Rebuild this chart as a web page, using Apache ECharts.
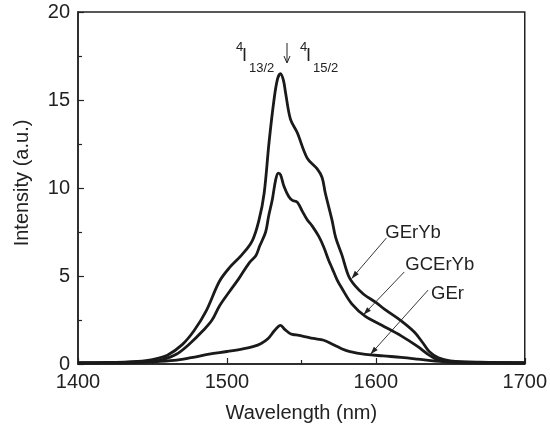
<!DOCTYPE html>
<html><head><meta charset="utf-8">
<script src="https://cdn.jsdelivr.net/npm/echarts@6/dist/echarts.min.js"></script>
<style>html,body{margin:0;padding:0;background:#fff}#c{width:550px;height:434px}</style>
</head><body><div id="c"></div>
<script>
// Axis ranges / ticks
const xRange = [1400, 1700];
const xStep = 100;
const yRange = [0, 20];
const yStep = 5;

// GErYb series
const gerybX = [1400,1420,1440,1450,1460,1470,1478,1486,1495,1502,1510,1517,1521.6,1525,1528.3,1531.6,1534,1536,1538,1539.4,1542.7,1547.2,1553.9,1560.5,1563.9,1566.1,1570.5,1573,1577.2,1581.7,1586,1592,1600,1606,1617,1626,1632,1636,1642,1650,1670,1700];
const gerybY = [0.08,0.09,0.15,0.25,0.5,1.1,1.9,3.0,4.7,5.5,6.2,7.0,8.2,9.7,12.6,15.0,16.2,16.5,16.1,15.4,13.9,13.15,11.7,11.1,10.6,9.7,8.2,7.2,6.2,5.0,4.45,3.95,3.5,3.1,2.45,1.8,1.15,0.7,0.35,0.18,0.1,0.08];

// GCErYb series
const gcerybX = [1400,1420,1440,1450,1457,1466,1475,1484,1490,1495,1502,1508,1515,1519.4,1522,1526,1528,1530.5,1532.7,1534.5,1536,1538.3,1541.6,1544,1547.2,1550.5,1553.9,1557.2,1561.7,1565,1568.3,1570.6,1573.9,1577.2,1584,1593,1604,1617,1628,1635,1642,1650,1670,1700];
const gcerybY = [0.06,0.07,0.1,0.15,0.25,0.55,1.15,1.9,2.5,3.3,4.15,4.85,5.75,6.15,6.7,7.5,8.4,9.35,10.45,10.85,10.75,10.1,9.5,9.3,9.2,8.7,8.2,7.85,7.25,6.65,5.9,5.45,4.8,4.3,3.4,2.7,2.2,1.6,1.0,0.55,0.22,0.12,0.07,0.06];

// GEr series
const gerX = [1400,1430,1450,1464.5,1476,1488,1500,1510,1518,1523,1527.7,1532,1536,1539,1543,1546.5,1552,1558,1565,1572,1577,1582,1593,1605,1617,1628,1640,1652,1670,1700];
const gerY = [0.05,0.07,0.12,0.2,0.36,0.56,0.71,0.85,1.0,1.17,1.45,1.9,2.2,1.95,1.7,1.65,1.56,1.45,1.35,1.08,0.87,0.72,0.55,0.46,0.38,0.28,0.16,0.1,0.07,0.05];

// Series labels with arrow (data coordinates)
const labelNames = ['GErYb', 'GCErYb', 'GEr'];
const labelPos = [[1606.4, 7.44], [1619.8, 5.63], [1637.1, 3.98]];
const arrowFrom = [[1607.1, 7.16], [1619.1, 5.23], [1635.1, 4.2]];
const arrowTo = [[1583.7, 4.85], [1591.7, 2.8], [1596.4, 0.55]];

const pairs = (xs, ys) => xs.map((x, i) => [x, ys[i]]);
const FONT = 'Liberation Sans';
const INK = '#1a1a1a';

const chart = echarts.init(document.getElementById('c'), null, {renderer: 'canvas'});

const axisCommon = {
  axisLine: {show: true, lineStyle: {color: '#222', width: 1.5}},
  axisTick: {show: true, inside: true, length: 6, lineStyle: {color: '#222', width: 1.2}},
  minorTick: {show: true, splitNumber: 2, length: 4, lineStyle: {color: '#222', width: 1.2}},
  splitLine: {show: false},
  axisLabel: {color: '#222', fontSize: 20, fontFamily: FONT, formatter: v => String(v)},
  nameTextStyle: {color: '#222', fontSize: 20, fontFamily: FONT}
};

const lineSeries = (name, data) => ({
  name, type: 'line', data, showSymbol: false, smooth: 0.35,
  lineStyle: {color: INK, width: 2.8}, itemStyle: {color: INK}, z: 3
});

chart.setOption({
  animation: false,
  backgroundColor: '#fff',
  grid: {left: 78, right: 23, top: 12, bottom: 70, show: true, borderColor: '#222', borderWidth: 1.5},
  xAxis: Object.assign({}, axisCommon, {
    type: 'value', min: xRange[0], max: xRange[1], interval: xStep,
    name: 'Wavelength (nm)', nameLocation: 'middle', nameGap: 39,
    axisLabel: Object.assign({}, axisCommon.axisLabel, {margin: 8})
  }),
  yAxis: Object.assign({}, axisCommon, {
    type: 'value', min: yRange[0], max: yRange[1], interval: yStep,
    name: 'Intensity (a.u.)', nameLocation: 'middle', nameGap: 46,
    nameTextStyle: Object.assign({}, axisCommon.nameTextStyle, {padding: [0, 0, 0, 10]}),
    axisLabel: Object.assign({}, axisCommon.axisLabel, {margin: 8})
  }),
  series: [
    lineSeries('GErYb', pairs(gerybX, gerybY)),
    lineSeries('GCErYb', pairs(gcerybX, gcerybY)),
    lineSeries('GEr', pairs(gerX, gerY))
  ]
});

const px = p => chart.convertToPixel({gridIndex: 0}, p);
const graphics = [];
labelNames.forEach((name, i) => {
  const t = px(labelPos[i]);
  graphics.push({type: 'text', x: t[0], y: t[1], style: {text: name, fill: '#222', font: '18.5px ' + FONT, textVerticalAlign: 'middle', textAlign: 'left'}, z: 10});
  const a = px(arrowFrom[i]), b = px(arrowTo[i]);
  graphics.push({type: 'line', shape: {x1: a[0], y1: a[1], x2: b[0], y2: b[1]}, style: {stroke: '#222', lineWidth: 0.9}, z: 10});
  const dx = b[0] - a[0], dy = b[1] - a[1], L = Math.hypot(dx, dy);
  const ux = dx / L, uy = dy / L, hl = 8, hw = 2.6;
  const bx = b[0] - ux * hl, by = b[1] - uy * hl;
  graphics.push({type: 'polygon', shape: {points: [[b[0], b[1]], [bx - uy * hw, by + ux * hw], [bx + uy * hw, by - ux * hw]]}, style: {fill: '#222'}, z: 10});
});
// transition labels
const tl = [
  {t: '4', x: 236, y: 47, f: 13},
  {t: 'I', x: 242, y: 56, f: 18},
  {t: '13/2', x: 249, y: 68, f: 13},
  {t: '4', x: 300, y: 47, f: 13},
  {t: 'I', x: 306, y: 56, f: 18},
  {t: '15/2', x: 313, y: 68, f: 13}
];
tl.forEach(o => graphics.push({type: 'text', x: o.x, y: o.y, style: {text: o.t, fill: '#222', font: o.f + 'px ' + FONT, textVerticalAlign: 'middle', textAlign: 'left'}, z: 10}));
graphics.push({type: 'line', shape: {x1: 287, y1: 43, x2: 287, y2: 62}, style: {stroke: '#222', lineWidth: 1}, z: 10});
graphics.push({type: 'polyline', shape: {points: [[284, 56], [287, 63], [290, 56]]}, style: {stroke: '#222', lineWidth: 1, fill: null}, z: 10});
chart.setOption({graphic: graphics});
</script></body></html>
